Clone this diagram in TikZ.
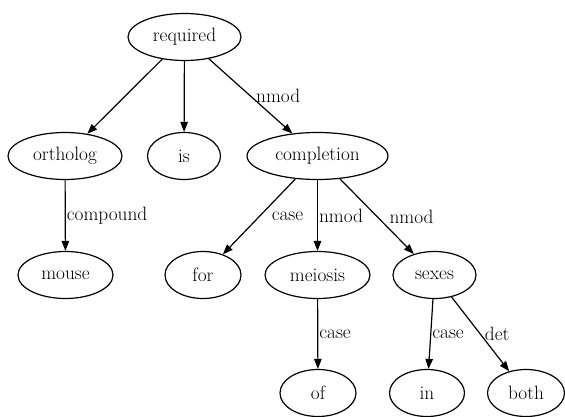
\documentclass[tikz,border=0pt]{standalone}
\usetikzlibrary{arrows.meta,shapes.geometric}

\begin{document}
\begin{tikzpicture}[x=1pt,y=-1pt,>={Triangle[length=10pt,width=7.5pt]},
                    font=\fontsize{19.3}{22}\selectfont]
  \tikzset{word/.style   = {draw,ellipse,line width=1.2pt,minimum height=47,inner sep=0pt},
           dep/.style    = {->,line width=1.2pt},
           deplbl/.style = {anchor=west,inner sep=1pt}}
  \useasboundingbox (0,0) rectangle (565,417);
  \node[word,minimum width=113] (required)   at (184.5,37)  {required};
  \node[word,minimum width=114] (ortholog)   at (65,156)    {ortholog};
  \node[word,minimum width=73]  (is)         at (184,156)   {is};
  \node[word,minimum width=141] (completion) at (317.5,156) {completion};
  \node[word,minimum width=95]  (mouse)      at (65.5,275)  {mouse};
  \node[word,minimum width=76]  (for)        at (203,275)   {for};
  \node[word,minimum width=105] (meiosis)    at (317.5,275) {meiosis};
  \node[word,minimum width=83]  (sexes)      at (434.5,275) {sexes};
  \node[word,minimum width=76]  (of)         at (318,393)   {of};
  \node[word,minimum width=75]  (in)         at (427,393)   {in};
  \node[word,minimum width=77]  (both)       at (526,393)   {both};
  \draw[dep] (required) -- (ortholog);
  \draw[dep] (required) -- (is);
  \draw[dep] (required) -- node[deplbl,xshift=4pt] {nmod} (completion);
  \draw[dep] (ortholog) -- node[deplbl] {compound} (mouse);
  \draw[dep] (completion) -- node[deplbl,xshift=11pt] {case} (for);
  \draw[dep] (completion) -- node[deplbl] {nmod} (meiosis);
  \draw[dep] (completion) -- node[deplbl,xshift=11pt] {nmod} (sexes);
  \draw[dep] (meiosis) -- node[deplbl] {case} (of);
  \draw[dep] (sexes) -- node[deplbl] {case} (in);
  \draw[dep] (sexes) -- node[deplbl,xshift=3pt] {det} (both);
\end{tikzpicture}
\end{document}
